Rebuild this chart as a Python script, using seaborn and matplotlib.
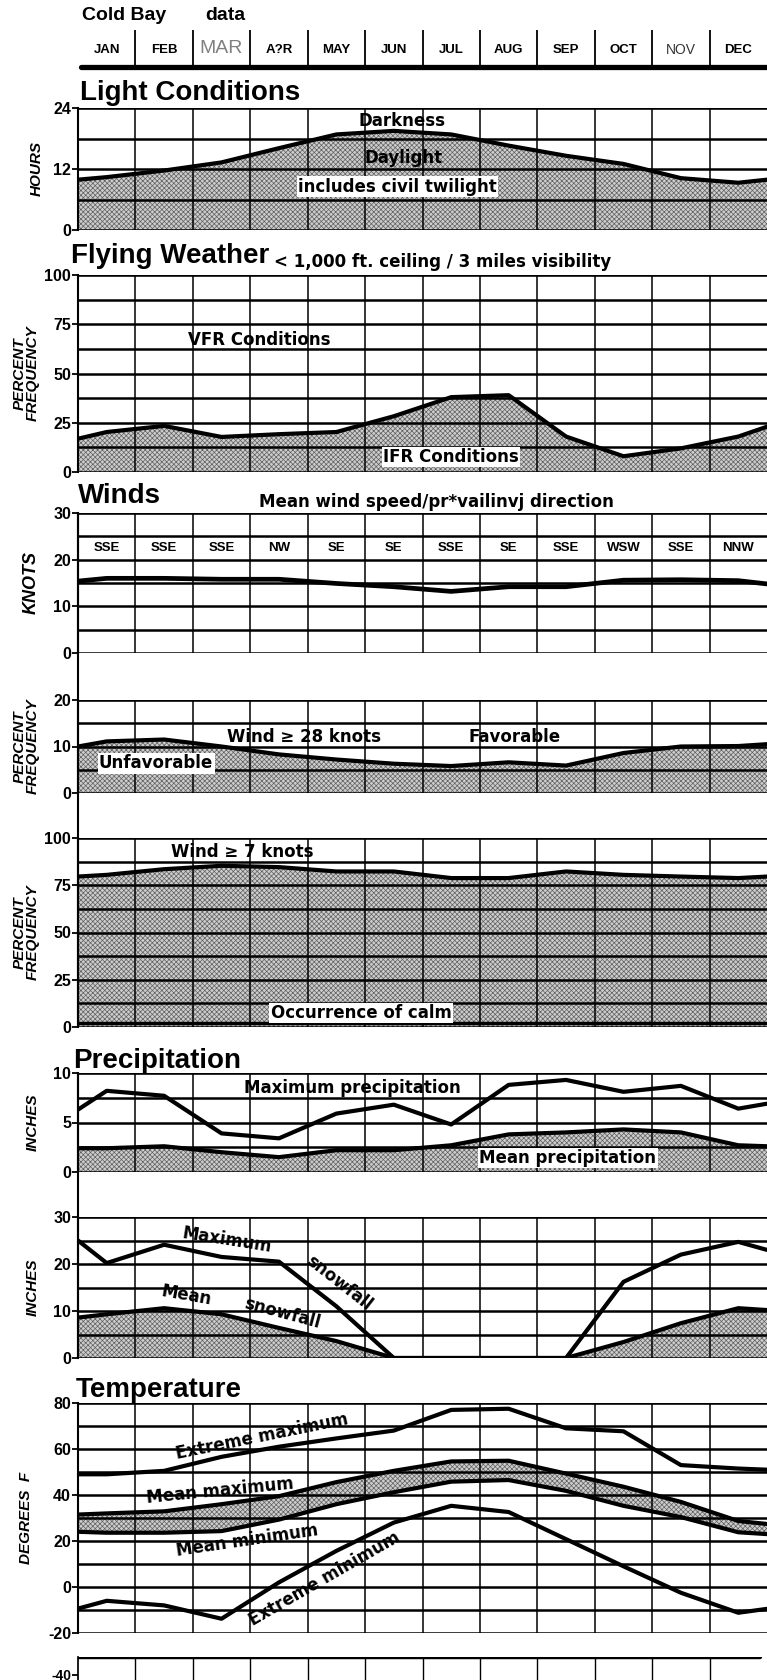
import numpy as np
import pandas as pd
import matplotlib
matplotlib.use("Agg")
import matplotlib.pyplot as plt
from matplotlib.lines import Line2D
import seaborn as sns

# figure geometry in pixels (767 x 1680 at dpi 100)
W, H = 767, 1680
LEFT, RIGHT = 78, 767

MONTHS = ["JAN", "FEB", "MAR", "A?R", "MAY", "JUN", "JUL", "AUG", "SEP", "OCT", "NOV", "DEC"]
# x positions: left edge of plot, 12 mid-month points, right edge of plot
XPOS = [0.0] + [m + 0.5 for m in range(12)] + [12.0]

# light conditions, hours of daylight incl. civil twilight
DAYLIGHT = [9.9, 10.4, 11.7, 13.3, 16.1, 18.8, 19.5, 18.8, 16.6, 14.6, 13.0, 10.2, 9.3, 9.9]
# flying weather, % IFR (< 1000 ft ceiling / 3 mi visibility)
IFR = [16.9, 20.3, 23.4, 17.8, 19.2, 20.3, 28.3, 38.0, 39.0, 18.0, 8.0, 12.0, 18.0, 23.0]
# winds
WIND_SPEED = [15.4, 16.0, 16.0, 15.8, 15.8, 14.9, 14.2, 13.2, 14.2, 14.2, 15.6, 15.7, 15.5, 14.8]
WIND_DIR = ["SSE", "SSE", "SSE", "NW", "SE", "SE", "SSE", "SE", "SSE", "WSW", "SSE", "NNW"]
WIND_28 = [10.0, 11.1, 11.5, 10.0, 8.3, 7.2, 6.3, 5.8, 6.6, 5.9, 8.6, 10.0, 10.1, 10.5]
WIND_7 = [79.6, 80.5, 83.5, 85.3, 84.6, 82.3, 82.3, 78.8, 78.8, 82.3, 80.5, 79.6, 78.8, 79.6]
CALM = [2.0, 2.0, 2.0, 2.0, 2.0, 2.0, 2.0, 2.0, 2.0, 2.0, 2.0, 2.0, 2.0, 2.0]
# precipitation, inches
PRECIP_MAX = [6.3, 8.2, 7.7, 3.9, 3.4, 5.9, 6.8, 4.8, 8.8, 9.3, 8.1, 8.7, 6.4, 6.9]
PRECIP_MEAN = [2.4, 2.4, 2.6, 2.0, 1.5, 2.2, 2.2, 2.7, 3.8, 4.0, 4.3, 4.0, 2.7, 2.6]
SNOW_MAX = [25.0, 20.2, 24.1, 21.5, 20.5, 11.0, 0, 0, 0, 0, 16.2, 22.0, 24.7, 23.0]
SNOW_MEAN = [8.6, 9.3, 10.6, 9.3, 6.4, 3.6, 0, 0, 0, 0, 3.4, 7.4, 10.6, 10.2]
# temperature, deg F
TEMP_XMAX = [49.0, 49.0, 50.5, 56.6, 61.0, 64.6, 68.0, 77.0, 77.5, 69.0, 67.7, 53.0, 51.5, 51.0]
TEMP_MMAX = [31.5, 32.0, 32.9, 36.0, 39.5, 45.6, 50.5, 54.6, 54.9, 49.3, 43.6, 37.0, 28.7, 27.4]
TEMP_MMIN = [24.0, 23.6, 23.6, 24.3, 29.3, 36.0, 41.2, 45.8, 46.5, 41.8, 35.3, 30.4, 23.8, 23.0]
TEMP_XMIN = [-9.4, -6.0, -8.0, -13.8, 2.0, 15.7, 28.0, 35.3, 32.6, 20.8, 9.0, -2.5, -11.2, -9.5]

sns.set_theme(style="white")
plt.rcParams["font.family"] = ["Liberation Sans", "DejaVu Sans"]
plt.rcParams["text.color"] = "black"
plt.rcParams["axes.labelcolor"] = "black"
plt.rcParams["axes.unicode_minus"] = False
plt.rcParams["hatch.linewidth"] = 0.5
NARROW = ["Liberation Sans Narrow", "Liberation Sans", "DejaVu Sans"]
SPACED = ["DejaVu Sans"]

fig = plt.figure(figsize=(W / 100, H / 100), dpi=100)
fig.patch.set_facecolor("white")


def fx(px):
    return px / W


def fy(px):
    return 1 - px / H


def panel(top, bottom, ylim, ticks, step):
    ax = fig.add_axes([fx(LEFT), fy(bottom), (RIGHT - LEFT) / W, (bottom - top) / H])
    ax.set_xlim(0, 12)
    ax.set_ylim(*ylim)
    ax.patch.set_alpha(0)
    for y in np.arange(ylim[0], ylim[1] + 1e-9, step):
        ax.axhline(y, color="black", lw=2.6 if y == ylim[1] else 1.8, zorder=3)
    for x in range(1, 12):
        ax.axvline(x, color="black", lw=1.1, zorder=3)
    ax.set_xticks([])
    ax.set_yticks(ticks)
    ax.set_yticklabels([str(t) for t in ticks])
    ax.tick_params(axis="y", left=True, length=4, width=1.3, pad=1, labelsize=11.5,
                   color="black", labelcolor="black")
    for lab in ax.get_yticklabels():
        lab.set_fontweight("bold")
        lab.set_family(NARROW)
    for s in ["top", "right", "bottom"]:
        ax.spines[s].set_visible(False)
    ax.spines["left"].set_linewidth(1.5)
    ax.spines["left"].set_color("black")
    return ax


def ylabel(ax, txt, x=-0.055, size=11):
    ax.set_ylabel(txt, fontsize=size, fontweight="bold", fontstyle="italic",
                  family=NARROW, linespacing=0.9, color="black")
    ax.yaxis.set_label_coords(x, 0.5)


def curve(ax, vals, lw=3.0):
    sns.lineplot(x=XPOS, y=vals, ax=ax, color="black", lw=lw, zorder=5, sort=False)


def stipple(ax, lo, hi):
    ax.fill_between(XPOS, lo, hi, facecolor="#cdcdcd", edgecolor="#606060",
                    hatch="xxxxxxx", linewidth=0, zorder=1)


def label(ax, x, y, s, size=12, rot=0, box=False):
    kw = dict(bbox=dict(facecolor="white", edgecolor="none", pad=1.0)) if box else {}
    ax.text(x, y, s, ha="center", va="center", fontsize=size, fontweight="bold",
            family=SPACED, rotation=rot, rotation_mode="anchor", zorder=6,
            color="black", **kw)


def title(x, y, s):
    fig.text(fx(x), fy(y), s, fontsize=20, fontweight="bold", ha="left", va="baseline")


def subtitle(x, y, s, size=12):
    fig.text(fx(x), fy(y), s, fontsize=size, fontweight="bold", family=SPACED,
             ha="left", va="baseline")


# header
fig.text(fx(82), fy(15), "Cold Bay", fontsize=14, fontweight="bold", va="center")
fig.text(fx(205), fy(16), "data", fontsize=14, fontweight="bold", va="center")
hdr = fig.add_axes([fx(LEFT), fy(67), (RIGHT - LEFT) / W, 37 / H])
hdr.set_xlim(0, 12)
hdr.set_ylim(0, 1)
hdr.axis("off")
for x in range(1, 12):
    hdr.plot([x, x], [0, 1], color="black", lw=1.3)
hdr.plot([0.05, 12], [0, 0], color="black", lw=3.8, clip_on=False)
for i, m in enumerate(MONTHS):
    if m == "MAR":
        hdr.text(i + 0.5, 0.5, m, ha="center", va="center", fontsize=14, color="#808080",
                 family=NARROW)
    elif m == "NOV":
        hdr.text(i + 0.5, 0.45, m, ha="center", va="center", fontsize=10, color="#333333",
                 family=NARROW)
    else:
        hdr.text(i + 0.5, 0.45, m, ha="center", va="center", fontsize=9.5, fontweight="bold")

# light conditions
title(80, 100, "Light Conditions")
ax = panel(108, 230, (0, 24), [0, 12, 24], 6)
stipple(ax, 0, DAYLIGHT)
curve(ax, DAYLIGHT)
ylabel(ax, "HOURS", x=-0.05)
label(ax, 5.64, 21.5, "Darkness")
label(ax, 5.67, 14.2, "Daylight")
label(ax, 5.56, 8.5, "includes civil twilight", box=True)

# flying weather
title(71, 263, "Flying Weather")
subtitle(274, 267, "< 1,000 ft. ceiling / 3 miles visibility")
ax = panel(275, 472, (0, 100), [0, 25, 50, 75, 100], 12.5)
stipple(ax, 0, IFR)
curve(ax, IFR)
ylabel(ax, "PERCENT\nFREQUENCY")
label(ax, 3.16, 67.0, "VFR Conditions")
label(ax, 6.5, 7.6, "IFR Conditions", box=True)

# winds
title(78, 503, "Winds")
subtitle(259, 507, "Mean wind speed/pr*vailinvj direction")
ax = panel(513, 653, (0, 30), [0, 10, 20, 30], 5)
curve(ax, WIND_SPEED, lw=3.4)
ylabel(ax, "KNOTS", size=13)
for i, d in enumerate(WIND_DIR):
    ax.text(i + 0.5, 22.4, d, ha="center", va="center", fontsize=9.5, fontweight="bold",
            family=NARROW, zorder=6)

ax = panel(700, 793, (0, 20), [0, 10, 20], 5)
stipple(ax, 0, WIND_28)
curve(ax, WIND_28)
ylabel(ax, "PERCENT\nFREQUENCY")
label(ax, 3.94, 12.0, "Wind \u2265 28 knots")
label(ax, 7.61, 12.0, "Favorable")
label(ax, 1.36, 6.4, "Unfavorable", box=True)

ax = panel(838, 1027, (0, 100), [0, 25, 50, 75, 100], 12.5)
stipple(ax, 0, WIND_7)
curve(ax, WIND_7)
curve(ax, CALM, lw=2.5)
ylabel(ax, "PERCENT\nFREQUENCY")
label(ax, 2.86, 92.6, "Wind \u2265 7 knots")
label(ax, 4.93, 7.4, "Occurrence of calm", box=True)
fig.add_artist(Line2D([fx(LEFT)] * 2, [fy(513), fy(1027)], color="black", lw=1.5))

# precipitation
title(73, 1068, "Precipitation")
ax = panel(1073, 1172, (0, 10), [0, 5, 10], 2.5)
stipple(ax, 0, PRECIP_MEAN)
curve(ax, PRECIP_MEAN)
curve(ax, PRECIP_MAX)
ylabel(ax, "INCHES")
label(ax, 4.77, 8.5, "Maximum precipitation")
label(ax, 8.53, 1.4, "Mean precipitation", box=True)

ax = panel(1217, 1358, (0, 30), [0, 10, 20, 30], 5)
stipple(ax, 0, SNOW_MEAN)
curve(ax, SNOW_MEAN)
curve(ax, SNOW_MAX)
ylabel(ax, "INCHES")
label(ax, 2.6, 25.0, "Maximum", rot=-9)
label(ax, 4.55, 16.0, "snowfall", rot=-38)
label(ax, 1.88, 13.3, "Mean", rot=-10)
label(ax, 3.55, 9.6, "snowfall", rot=-15)
fig.add_artist(Line2D([fx(LEFT)] * 2, [fy(1073), fy(1358)], color="black", lw=1.5))

# temperature
title(76, 1397, "Temperature")
ax = panel(1403, 1633, (-20, 80), [-20, 0, 20, 40, 60, 80], 10)
stipple(ax, TEMP_MMIN, TEMP_MMAX)
curve(ax, TEMP_XMAX)
curve(ax, TEMP_MMAX)
curve(ax, TEMP_MMIN)
curve(ax, TEMP_XMIN)
ylabel(ax, "DEGREES  F", x=-0.065)
label(ax, 3.2, 65.5, "Extreme maximum", rot=11.5)
label(ax, 2.47, 42.0, "Mean maximum", rot=5.6)
label(ax, 2.95, 20.2, "Mean minimum", rot=8.4)
label(ax, 4.3, 3.4, "Extreme minimum", rot=30)

# start of the next panel, cut off at the bottom of the page
ax = fig.add_axes([fx(LEFT), 0, (RIGHT - LEFT) / W, 23 / H])
ax.set_xlim(0, 12)
ax.set_ylim(-41.5, -35)
ax.patch.set_alpha(0)
for x in range(1, 12):
    ax.axvline(x, color="black", lw=1.0)
ax.axhline(-35, color="black", lw=3.2, xmax=0.99)
ax.set_xticks([])
ax.set_yticks([-40])
ax.set_yticklabels(["-40"])
ax.tick_params(axis="y", left=True, length=4, width=1.3, pad=1, labelsize=10,
               color="black", labelcolor="black")
for lab in ax.get_yticklabels():
    lab.set_fontweight("bold")
    lab.set_family(NARROW)
for s in ["top", "right", "bottom"]:
    ax.spines[s].set_visible(False)
ax.spines["left"].set_color("black")

fig.savefig("out.png", dpi=100, facecolor="white")
